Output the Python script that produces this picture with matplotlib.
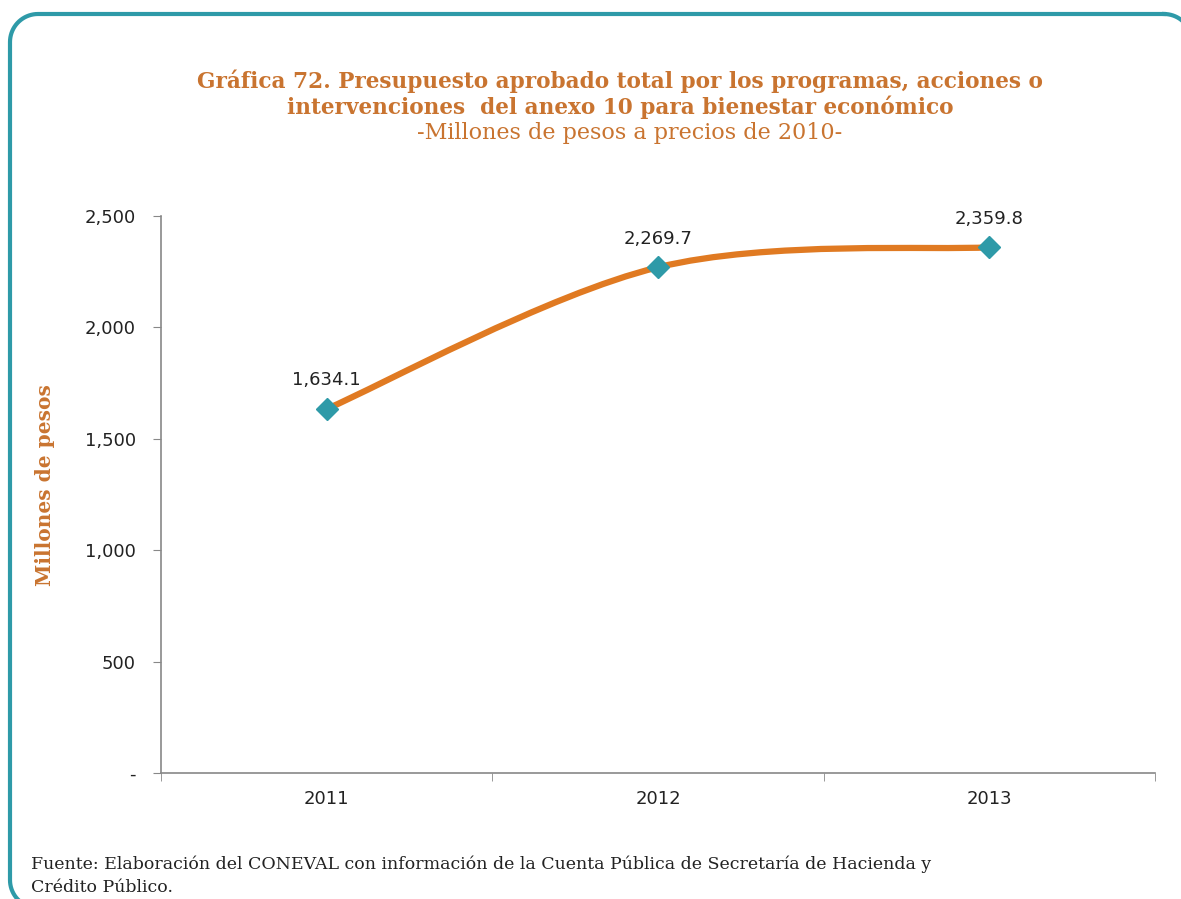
import numpy as np
import matplotlib
matplotlib.use("Agg")
import matplotlib.pyplot as plt
from matplotlib.path import Path
from matplotlib.patches import PathPatch
from matplotlib.lines import Line2D
from matplotlib.transforms import IdentityTransform
from matplotlib.ticker import FuncFormatter

# data
years = ["2011", "2012", "2013"]
values = [1634.1, 2269.7, 2359.8]
value_labels = ["1,634.1", "2,269.7", "2,359.8"]
y_ticks = [0, 500, 1000, 1500, 2000, 2500]

TITLE = ("Gráfica 72. Presupuesto aprobado total por los programas, acciones o\n"
         "intervenciones  del anexo 10 para bienestar económico")
SUBTITLE = "-Millones de pesos a precios de 2010-"
SOURCE = ("Fuente: Elaboración del CONEVAL con información de la Cuenta Pública de Secretaría de Hacienda y\n"
          "Crédito Público.")

ORANGE = "#e07a22"
TITLE_C = "#c97430"
TEAL = "#2e9aa8"
W, H = 1181, 899


def smooth_path(xs, ys, t=1 / 6):
    """Catmull-Rom style bezier path through points (like Excel smoothed line)"""
    pts = np.column_stack([xs, ys]).astype(float)
    verts = [pts[0]]
    codes = [Path.MOVETO]
    n = len(pts)
    for i in range(n - 1):
        p0 = pts[i - 1] if i > 0 else pts[i]
        p1, p2 = pts[i], pts[i + 1]
        p3 = pts[i + 2] if i + 2 < n else pts[i + 1]
        c1 = p1 + (p2 - p0) * t
        c2 = p2 - (p3 - p1) * t
        verts += [c1, c2, p2]
        codes += [Path.CURVE4] * 3
    return Path(verts, codes)


def rounded_frame(x0, y0, x1, y1, r, n=20):
    """outline of a rounded rectangle in pixels, top-left origin"""
    xs, ys = [], []
    corners = [(x1 - r, y0 + r, -90, 0), (x1 - r, y1 - r, 0, 90),
               (x0 + r, y1 - r, 90, 180), (x0 + r, y0 + r, 180, 270)]
    for cx, cy, a0, a1 in corners:
        a = np.radians(np.linspace(a0, a1, n))
        xs += list(cx + r * np.cos(a))
        ys += list(cy + r * np.sin(a))
    xs.append(xs[0])
    ys.append(ys[0])
    return np.array(xs), H - np.array(ys)


fig = plt.figure(figsize=(W / 100, H / 100), dpi=100)
ax = fig.add_axes([161 / W, 1 - 773 / H, (1155 - 161) / W, (773 - 216) / H])

x = np.arange(len(years))
ax.set_xlim(-0.5, 2.5)
ax.set_ylim(0, 2500)
ax.add_patch(PathPatch(smooth_path(x, values), facecolor="none", edgecolor=ORANGE,
                       lw=4.5, capstyle="round", zorder=2))
ax.plot(x, values, linestyle="none", marker="D", markersize=11, color=TEAL, zorder=3)

for xi, v, lab in zip(x, values, value_labels):
    ax.annotate(lab, (xi, v), xytext=(0, 14), textcoords="offset points",
                ha="center", va="bottom", fontsize=13, color="#222222", family="DejaVu Sans")

ax.set_yticks(y_ticks)
ax.yaxis.set_major_formatter(FuncFormatter(lambda v, p: "-" if v == 0 else f"{v:,.0f}"))
ax.set_xticks(x)
ax.set_xticklabels(years)
ax.set_xticks([-0.5, 0.5, 1.5, 2.5], minor=True)
ax.tick_params(axis="x", which="major", length=0, pad=12, labelsize=13, labelcolor="#222222")
ax.tick_params(axis="x", which="minor", length=6, color="#888888", direction="out")
ax.tick_params(axis="y", length=6, color="#888888", pad=12, labelsize=13, labelcolor="#222222")

for s in ["top", "right"]:
    ax.spines[s].set_visible(False)
for s in ["left", "bottom"]:
    ax.spines[s].set_color("#888888")
    ax.spines[s].set_linewidth(1.2)

fig.text(45 / W, 1 - 485 / H, "Millones de pesos", rotation=90, ha="center", va="center",
         fontsize=14.5, fontweight="bold", color=TITLE_C, family="DejaVu Serif")

fig.text(620 / W, 1 - 94 / H, TITLE, ha="center", va="center", fontsize=15.6,
         fontweight="bold", color=TITLE_C, family="DejaVu Serif", linespacing=1.15)
fig.text(630 / W, 1 - 133 / H, SUBTITLE, ha="center", va="center", fontsize=16,
         color=TITLE_C, family="DejaVu Serif")

fig.text(31 / W, 1 - 876 / H, SOURCE, ha="left", va="center", fontsize=12.5,
         color="#222222", family="DejaVu Serif", linespacing=1.5)

# rounded teal frame around the chart (runs off the right and bottom edges)
fx, fy = rounded_frame(10, 14, 1192, 908, 28)
fig.add_artist(Line2D(fx, fy, transform=IdentityTransform(), color=TEAL, lw=3,
                      solid_joinstyle="round"))

fig.savefig("out.png", dpi=100)
